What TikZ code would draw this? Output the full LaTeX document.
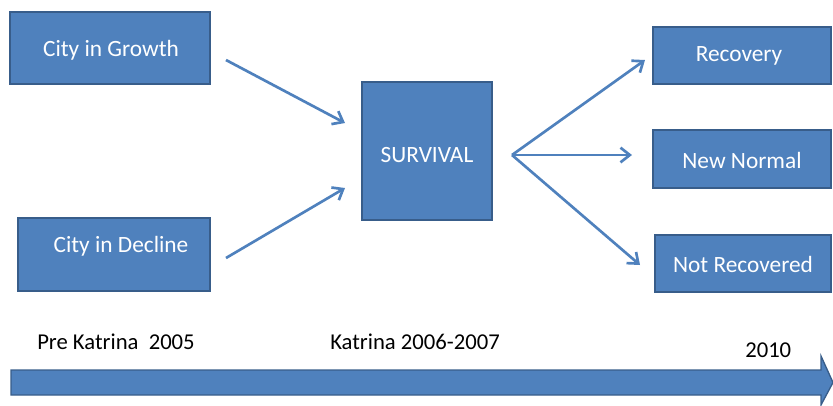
\documentclass[tikz,border=0pt]{standalone}
\usepackage{fontspec}
\setmainfont{Carlito}
\usetikzlibrary{arrows.meta}
\definecolor{boxblue}{HTML}{4F81BD}
\definecolor{boxedge}{HTML}{385D8A}
\begin{document}
\begin{tikzpicture}[x=0.75pt,y=-0.75pt,
  stagebox/.style={draw=boxedge,line width=1.5pt,fill=boxblue,inner sep=0pt},
  boxtext/.style={text=white,font=\fontsize{17.5}{20}\selectfont,inner sep=0pt},
  conn/.style={draw=boxblue,line width=2pt,
    -{Straight Barb[length=7pt,width=11pt,line width=2pt]}},
  timelabel/.style={font=\fontsize{17}{20}\selectfont,text=black,inner sep=0pt}]
\useasboundingbox (0,0) rectangle (833,405);

% stage boxes
\node[stagebox,minimum width=200*0.75pt,minimum height=72*0.75pt] (growth) at (110,48) {};
\node[stagebox,minimum width=192*0.75pt,minimum height=73*0.75pt] (decline) at (114,254.5) {};
\node[stagebox,minimum width=130*0.75pt,minimum height=138*0.75pt] (surv) at (427,151) {};
\node[stagebox,minimum width=178*0.75pt,minimum height=57*0.75pt] (recov) at (742,55.5) {};
\node[stagebox,minimum width=178*0.75pt,minimum height=58*0.75pt] (newnorm) at (742,159) {};
\node[stagebox,minimum width=176*0.75pt,minimum height=57*0.75pt] (notrec) at (743,263.5) {};

% box captions
\node[boxtext] (growthtxt) at (111,50) {City in Growth};
\node[boxtext] (declinetxt) at (121,246) {City in Decline};
\node[boxtext] (survtxt) at (427,155) {SURVIVAL};
\node[boxtext] (recovtxt) at (739,56) {Recovery};
\node[boxtext] (newnormtxt) at (742,160) {New Normal};
\node[boxtext] (notrectxt) at (743,264) {Not Recovered};

% connector end points
\coordinate (g0) at (226,60);
\coordinate (g1) at (345,123);
\coordinate (d0) at (226,258);
\coordinate (d1) at (345,188);
\coordinate (s0) at (512,155);
\coordinate (r1) at (645,60);
\coordinate (n1) at (632,155);
\coordinate (x1) at (640,265);

\draw[conn] (g0) -- (g1);
\draw[conn] (d0) -- (d1);
\draw[conn] (s0) -- (r1);
\draw[conn] (s0) -- (n1);
\draw[conn] (s0) -- (x1);

% timeline
\filldraw[fill=boxblue,draw=boxedge,line width=1pt]
  (11,370) -- (821,370) -- (821,356) -- (833,382.5) -- (821,405) -- (821,395) -- (11,395) -- cycle;
\node[timelabel,anchor=west] (t1) at (37,342) {Pre Katrina\ \ 2005};
\node[timelabel,anchor=west] (t2) at (330,342) {Katrina 2006-2007};
\node[timelabel,anchor=west] (t3) at (745,350) {2010};
\end{tikzpicture}
\end{document}
